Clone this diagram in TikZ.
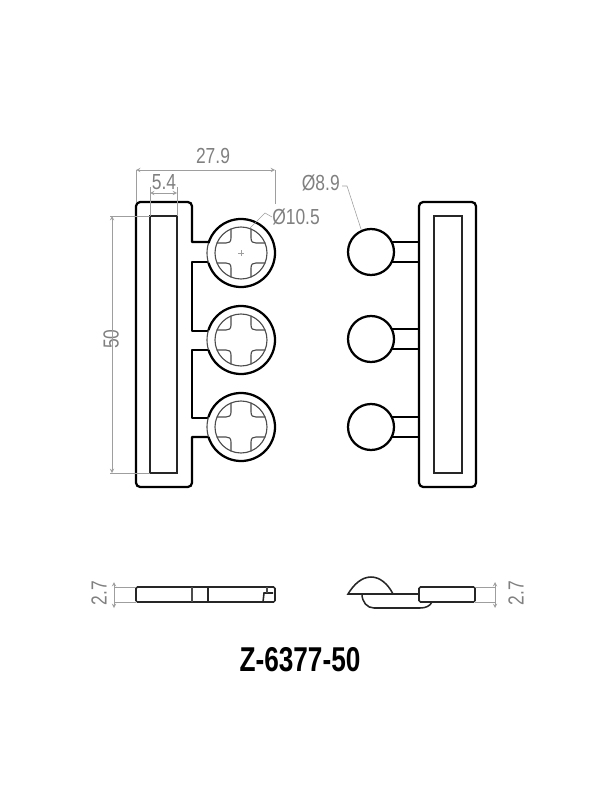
\documentclass[tikz,border=0pt]{standalone}
\usepackage{fontspec}
\newfontfamily\dimfont[FakeStretch=0.8]{Liberation Sans}
\newfontfamily\titlefont[FakeStretch=0.76]{Liberation Sans}
\definecolor{dimtext}{gray}{0.5}
\definecolor{dimline}{gray}{0.62}
\tikzset{
  outline/.style={line width=1.6pt,black,line join=round},
  insetline/.style={line width=1.1pt,black!85},
  fineline/.style={line width=0.8pt,black!70},
  dimension/.style={line width=0.4pt,dimline},
  dimlabel/.style={text=dimtext,font=\dimfont\fontsize{15.5}{17}\selectfont,inner sep=0pt},
  >=stealth
}
\begin{document}
\begin{tikzpicture}[x=0.025cm,y=-0.025cm]
\useasboundingbox (0,0) rectangle (600,800);
% left part, top view
\draw[outline] (208,242) -- (192,242) [rounded corners=3pt] -- (192,202) -- (136,202) -- (136,487) -- (192,487) [sharp corners] -- (192,437) -- (208,437);
\draw[outline] (208,262) -- (192,262) -- (192,331) -- (208,331);
\draw[outline] (208,350) -- (192,350) -- (192,418) -- (208,418);
\draw[insetline] (150,216) rectangle (177,473);
\foreach \y in {253,340,427}{
\begin{scope}[shift={(241,\y)}]
\draw[fineline] (0,0) circle (34);
\draw[outline] (163:34) arc (163:-163:34);
\draw[fineline] (0,0) circle (26);
\foreach \sx/\sy in {1/1,-1/1,1/-1,-1/-1}{
\draw[fineline,xscale=\sx,yscale=\sy] (10,24) -- (10,15) .. controls (10,11) and (12,10) .. (15,10) -- (24,10);
}
\end{scope}
}
\draw[line width=0.3pt,dimline] (238,253) -- (244,253) (241,250) -- (241,256);
% right part, top view
\draw[outline,rounded corners=3pt] (419,202) rectangle (476,487);
\draw[insetline] (434,216) rectangle (462,473);
\foreach \y in {252,339,427}{
\draw[outline] (371,\y) circle (23);
\draw[outline] (392,\y-10) -- (419,\y-10);
\draw[outline] (392,\y+10) -- (419,\y+10);
}
% left part, side view
\draw[insetline,rounded corners=1pt] (136,602) -- (136,587) -- (275,587) -- (275,602) -- cycle;
\draw[fineline] (192,587) -- (192,602);
\draw[insetline] (208,587) -- (208,602);
\draw[insetline] (263,602) -- (264,593) -- (273,593);
\draw[fineline] (267,587) -- (267,593);
% right part, side view
\draw[insetline] (419,594) -- (348,594) .. controls (354,584) and (362,577) .. (371,577) .. controls (380,577) and (388,584) .. (393,594);
\draw[insetline] (362,594) .. controls (362,602) and (367,608) .. (374,608) -- (420,608) .. controls (426,608) and (430,606) .. (432,602);
\draw[insetline,rounded corners=1pt] (419,587) rectangle (475,602);
% dimensions
\node[dimlabel] (w279) at (213,156) {27.9};
\node[dimlabel] (w54) at (164,182) {5.4};
\node[dimlabel,rotate=90] (h50) at (111,339) {50};
\node[dimlabel,anchor=west] (d105) at (272,217) {Ø10.5};
\node[dimlabel,anchor=east] (d89) at (340,183) {Ø8.9};
\node[dimlabel,rotate=90] (t27l) at (99,593) {2.7};
\node[dimlabel,rotate=90] (t27r) at (516,593) {2.7};
\draw[dimension,<->] (136,170) -- (275,170);
\draw[dimension] (136,170) -- (136,202);
\draw[dimension] (275,170) -- (275,204);
\draw[dimension,<->] (150,193) -- (177,193);
\draw[dimension] (150,187) -- (150,216);
\draw[dimension] (177,187) -- (177,216);
\draw[dimension,<->] (112,216) -- (112,473);
\draw[dimension] (110,216) -- (150,216);
\draw[dimension] (110,473) -- (150,473);
\coordinate (d105tip) at (250,228);
\coordinate (d89tip) at (361,229);
\draw[dimension] (d105.west) -- (265,213) -- (d105tip);
\draw[dimension] (d89.east) ++(2,3) -- (347,186) -- (d89tip);
\draw[dimension,<->] (114,582) -- (114,608);
\draw[dimension] (114,587) -- (136,587);
\draw[dimension] (114,602) -- (136,602);
\draw[dimension,<->] (495,582) -- (495,608);
\draw[dimension] (475,587) -- (496,587);
\draw[dimension] (475,602) -- (496,602);
% title
\node[font=\titlefont\bfseries\fontsize{24.5}{28}\selectfont,inner sep=0pt] (title) at (300,660) {Z-6377-50};
\end{tikzpicture}
\end{document}
